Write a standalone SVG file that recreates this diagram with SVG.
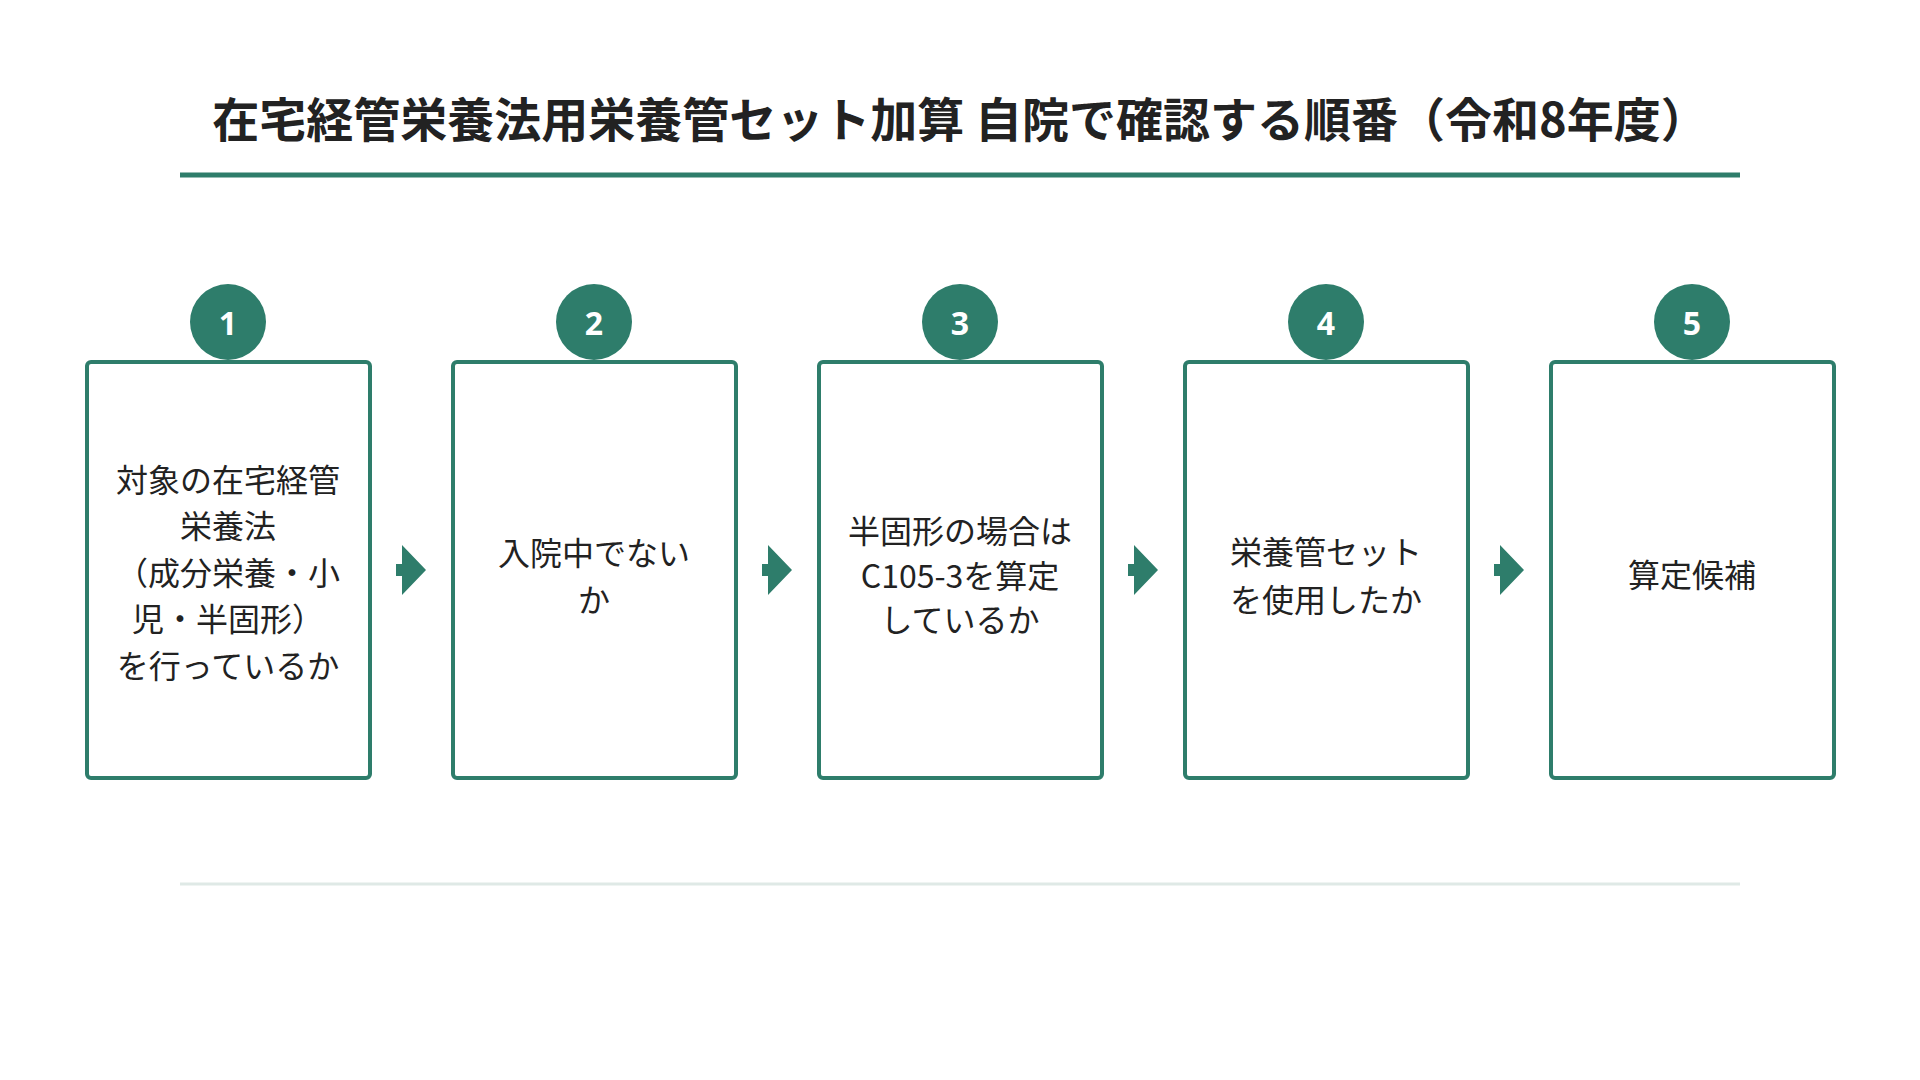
<svg xmlns="http://www.w3.org/2000/svg" width="1920" height="1080" viewBox="0 0 1920 1080">
<style>
.t{font-family:"Noto Sans CJK JP","Noto Sans",sans-serif;fill:#222;text-anchor:middle;dominant-baseline:central}
.box{fill:#fff;stroke:#2e7d6b;stroke-width:4}
.c{fill:#2e7d6b}
.n{font-family:"Noto Sans","Liberation Sans",sans-serif;font-weight:bold;font-size:32px;fill:#fff;text-anchor:middle;dominant-baseline:central}
.b{font-size:32px}
</style>
<defs><path id="arr" d="M0,-6 h6 v-19 l24,25 l-24,25 v-19 h-6z" fill="#2e7d6b"/></defs>
<rect width="1920" height="1080" fill="#fff"/>
<text class="t" x="960" y="116" font-size="47" font-weight="bold" fill="#1f2d3a">在宅経管栄養法用栄養管セット加算 自院で確認する順番（令和8年度）</text>
<line x1="180" y1="175" x2="1740" y2="175" stroke="#2e7d6b" stroke-width="5"/>
<line x1="180" y1="884" x2="1740" y2="884" stroke="#dfe9e6" stroke-width="3"/>
<g id="connectors">
<use href="#arr" x="396" y="570"/><use href="#arr" x="762" y="570"/><use href="#arr" x="1128" y="570"/><use href="#arr" x="1494" y="570"/>
</g>
<g id="node1"><rect class="box" x="87" y="362" width="283" height="416" rx="4"/><circle class="c" cx="228" cy="322" r="38"/><text class="n" x="228" y="322">1</text>
<text class="t b" x="228" y="478">対象の在宅経管</text><text class="t b" x="228" y="524">栄養法</text><text class="t b" x="228" y="571">（成分栄養・小</text><text class="t b" x="228" y="617">児・半固形）</text><text class="t b" x="228" y="664">を行っているか</text></g>
<g id="node2"><rect class="box" x="453" y="362" width="283" height="416" rx="4"/><circle class="c" cx="594" cy="322" r="38"/><text class="n" x="594" y="322">2</text>
<text class="t b" x="594" y="551">入院中でない</text><text class="t b" x="594" y="598">か</text></g>
<g id="node3"><rect class="box" x="819" y="362" width="283" height="416" rx="4"/><circle class="c" cx="960" cy="322" r="38"/><text class="n" x="960" y="322">3</text>
<text class="t b" x="960" y="529">半固形の場合は</text><text class="t b" x="960" y="574">C105-3を算定</text><text class="t b" x="960" y="618">しているか</text></g>
<g id="node4"><rect class="box" x="1185" y="362" width="283" height="416" rx="4"/><circle class="c" cx="1326" cy="322" r="38"/><text class="n" x="1326" y="322">4</text>
<text class="t b" x="1326" y="550">栄養管セット</text><text class="t b" x="1326" y="598">を使用したか</text></g>
<g id="node5"><rect class="box" x="1551" y="362" width="283" height="416" rx="4"/><circle class="c" cx="1692" cy="322" r="38"/><text class="n" x="1692" y="322">5</text>
<text class="t b" x="1692" y="573">算定候補</text></g>
</svg>
